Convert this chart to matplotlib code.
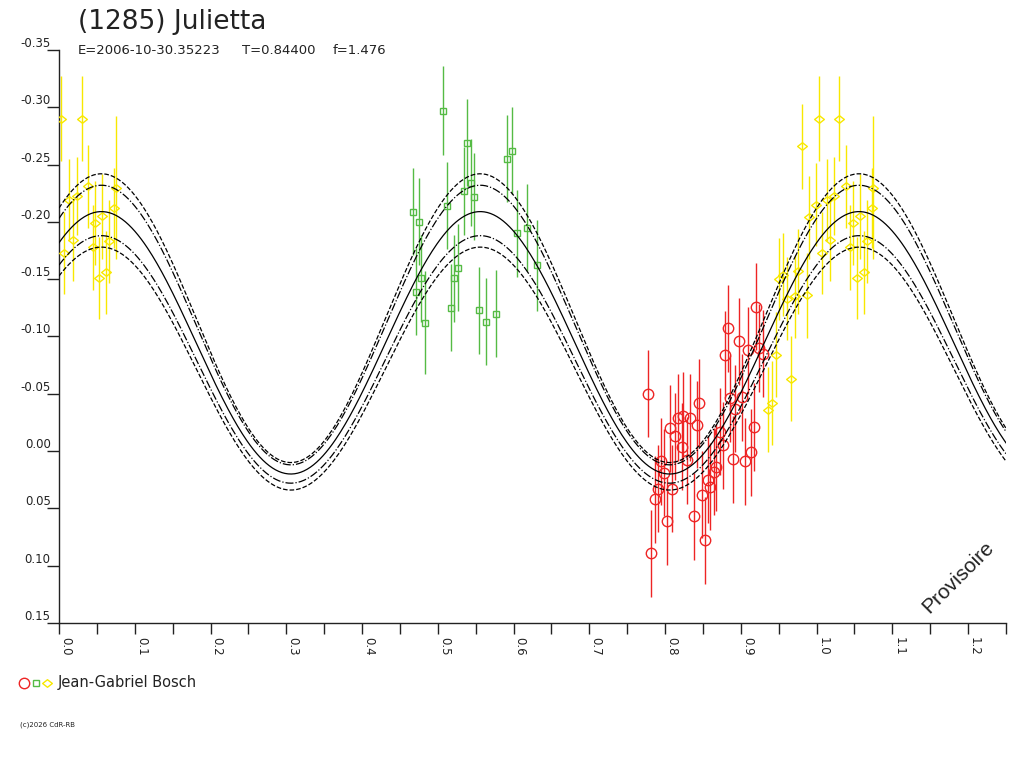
"""Phased lightcurve of (1285) Julietta, redrawn with matplotlib (headless)."""
import matplotlib
matplotlib.use("Agg")
import matplotlib.pyplot as plt  # noqa: E402
import numpy as np  # noqa: E402
from matplotlib.lines import Line2D  # noqa: E402
from matplotlib.path import Path as MPath  # noqa: E402

# --- data ------------------------------------------------------------------
# red circles (phase, relative magnitude, error)
red_phase = [0.778, 0.920, 0.883, 0.898, 0.879, 0.909, 0.9245, 0.929, 0.845, 0.886,
             0.901, 0.892, 0.817, 0.824, 0.833, 0.842, 0.806, 0.813, 0.822, 0.872,
             0.917, 0.876, 0.913, 0.906, 0.890, 0.794, 0.799, 0.829, 0.867, 0.864,
             0.857, 0.859, 0.790, 0.809, 0.849, 0.787, 0.802, 0.838, 0.853, 0.7815]
red_mag = [-0.050, -0.126, -0.107, -0.096, -0.084, -0.088, -0.090, -0.085, -0.042, -0.046,
           -0.047, -0.037, -0.029, -0.031, -0.029, -0.023, -0.020, -0.013, -0.004, -0.017,
           -0.021, -0.005, 0.001, 0.009, 0.007, 0.009, 0.019, 0.008, 0.014, 0.018,
           0.025, 0.031, 0.033, 0.033, 0.038, 0.042, 0.061, 0.057, 0.078, 0.089]
red_err = [0.038] * len(red_phase)

# green squares
green_phase = [0.5065, 0.538, 0.534, 0.5435, 0.548, 0.512, 0.467, 0.475, 0.591, 0.598,
               0.604, 0.618, 0.6305, 0.478, 0.471, 0.483, 0.522, 0.527, 0.517, 0.555,
               0.563, 0.5765]
green_mag = [-0.297, -0.269, -0.227, -0.234, -0.222, -0.214, -0.209, -0.200, -0.255, -0.262,
             -0.190, -0.195, -0.162, -0.151, -0.139, -0.112, -0.151, -0.160, -0.125, -0.123,
             -0.113, -0.120]
green_err = [0.039, 0.038, 0.038, 0.038, 0.038, 0.038, 0.038, 0.038, 0.038, 0.038,
             0.038, 0.038, 0.040, 0.038, 0.038, 0.045, 0.038, 0.038, 0.038, 0.038,
             0.038, 0.038]

# yellow diamonds
yellow_phase = [0.0026, 0.030, 0.0386, 0.0748, 0.0726, 0.0136, 0.0234, 0.0572, 0.0475, 0.0181,
                0.0664, 0.0445, 0.0066, 0.0532, 0.0620,
                0.981, 0.9987, 0.9905, 0.951, 0.956, 0.976, 0.961, 0.972, 0.987,
                0.9465, 0.966, 0.9417, 0.9355]
yellow_mag = [-0.290, -0.290, -0.231, -0.230, -0.212, -0.219, -0.223, -0.205, -0.199, -0.184,
              -0.183, -0.178, -0.173, -0.151, -0.156,
              -0.266, -0.215, -0.204, -0.150, -0.154, -0.157, -0.133, -0.135, -0.136,
              -0.084, -0.063, -0.042, -0.036]
yellow_err = [0.037, 0.037, 0.036, 0.062, 0.035, 0.036, 0.034, 0.037, 0.037, 0.036,
              0.036, 0.037, 0.036, 0.036, 0.036,
              0.037, 0.036, 0.036, 0.036, 0.036, 0.037, 0.036, 0.036, 0.037,
              0.037, 0.037, 0.037, 0.037]

# fitted curve and its envelopes: mean level and amplitude of the 2nd harmonic
# (brightest, i.e. most negative, at curve_phase0)
curve_mean = [-0.116, -0.110, -0.0945, -0.080, -0.072]
curve_amp = [0.126, 0.122, 0.1145, 0.108, 0.106]
curve_style = ["--", "-.", "-", "-.", "--"]
curve_phase0 = 0.056

x_ticks = [0.0, 0.1, 0.2, 0.3, 0.4, 0.5, 0.6, 0.7, 0.8, 0.9, 1.0, 1.1, 1.2]
y_ticks = [-0.35, -0.30, -0.25, -0.20, -0.15, -0.10, -0.05, 0.00, 0.05, 0.10, 0.15]

RED, GREEN, YELLOW, INK = "#EE2424", "#55BB44", "#F8E800", "#222222"
XMAX = 1.25

diamond = MPath([(-1, 0), (0, 0.78), (1, 0), (0, -0.78), (-1, 0)],
                [MPath.MOVETO, MPath.LINETO, MPath.LINETO, MPath.LINETO, MPath.CLOSEPOLY])


def folded(phase, mag, err):
    """Repeat each point one cycle later when it still falls on the axis."""
    p, m, e = (np.asarray(v, float) for v in (phase, mag, err))
    keep = p + 1 <= XMAX
    return (np.concatenate([p, p[keep] + 1]), np.concatenate([m, m[keep]]),
            np.concatenate([e, e[keep]]))


fig = plt.figure(figsize=(10.24, 7.68), dpi=100)
ax = fig.add_axes([59 / 1024, 1 - 623 / 768, 947 / 1024, 573 / 768])

series = [(red_phase, red_mag, red_err, RED, "o", 7.5),
          (green_phase, green_mag, green_err, GREEN, "s", 5.0),
          (yellow_phase, yellow_mag, yellow_err, YELLOW, diamond, 7.0)]
for ph, mg, er, col, mk, ms in series:
    p, m, e = folded(ph, mg, er)
    ax.vlines(p, m - e, m + e, color=col, lw=1.0, zorder=2)
    ax.plot(p, m, ls="none", marker=mk, ms=ms, mfc="none", mec=col, mew=1.0, zorder=3)

xs = np.linspace(0, XMAX, 600)
for mean, amp, ls in zip(curve_mean, curve_amp, curve_style):
    ax.plot(xs, mean - amp * np.cos(4 * np.pi * (xs - curve_phase0)),
            ls=ls, color="black", lw=0.9, zorder=4)

ax.set_xlim(0, XMAX)
ax.set_ylim(0.15, -0.35)
for side in ("top", "right"):
    ax.spines[side].set_visible(False)
for side in ("left", "bottom"):
    ax.spines[side].set_color(INK)
    ax.spines[side].set_linewidth(1.0)

ax.set_xticks(x_ticks)
ax.set_xticks(np.arange(0.05, XMAX + 0.001, 0.1), minor=True)
ax.set_xticklabels([f"{t:.1f}" for t in x_ticks], rotation=270, ha="left", va="top",
                   fontsize=8.5, color=INK)
ax.tick_params(axis="x", which="both", direction="out", length=8, width=1, color=INK, pad=2)

ax.set_yticks(y_ticks)
ax.set_yticklabels([f"{t:.2f}" for t in y_ticks], fontsize=8.5, color=INK, va="bottom")
ax.tick_params(axis="y", direction="out", length=9, width=1, color=INK, pad=-3)

# header
fig.text(78 / 1024, 1 - 29 / 768, "(1285) Julietta", fontsize=19, color=INK, va="baseline")
for x0, txt in [(78, "E=2006-10-30.35223"), (242, "T=0.84400"), (333, "f=1.476")]:
    fig.text(x0 / 1024, 1 - 54 / 768, txt, fontsize=9.5, color=INK, va="baseline")

ax.text(0.949, 0.08, "Provisoire", transform=ax.transAxes, rotation=45, fontsize=15,
        color=INK, family="Liberation Sans", ha="center", va="center")

# observer legend
for x0, mk, ms, col in [(24, "o", 7.5, RED), (36, "s", 5.0, GREEN), (47, diamond, 7.0, YELLOW)]:
    fig.add_artist(Line2D([x0 / 1024], [1 - 683 / 768], transform=fig.transFigure,
                          marker=mk, ms=ms, mfc="none", mec=col, mew=1.0, ls="none"))
fig.text(58 / 1024, 1 - 683 / 768, "Jean-Gabriel Bosch", fontsize=10.5, color=INK, va="center")

fig.text(20 / 1024, 1 - 725 / 768, "(c)2026 CdR-RB", fontsize=5, color=INK, va="center")

fig.savefig("out.png", dpi=100)
plt.close(fig)
